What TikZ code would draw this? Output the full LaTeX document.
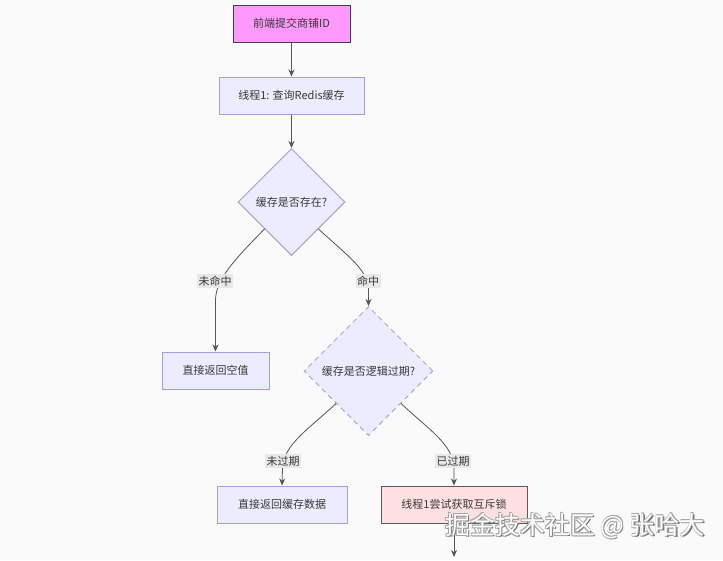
\documentclass[tikz,border=0pt]{standalone}
\usepackage{fontspec}
\setmainfont{Noto Sans CJK SC}
\usetikzlibrary{shapes.geometric,arrows.meta}
\definecolor{bg}{HTML}{FAFAFA}
\definecolor{nodefill}{HTML}{ECECFF}
\definecolor{nodeline}{HTML}{A99BE3}
\definecolor{dashline}{HTML}{ABA6D6}
\definecolor{magentafill}{HTML}{FF99FF}
\definecolor{pinkfill}{HTML}{FFE0E0}
\definecolor{edgecol}{HTML}{555555}
\definecolor{labbg}{HTML}{E8E8E8}
\tikzset{
  box/.style={draw=nodeline, fill=nodefill, line width=1pt, minimum height=37pt, inner sep=0pt, font=\fontsize{11pt}{13pt}\selectfont, text=black!78},
  dia/.style={diamond, draw=nodeline, fill=nodefill, line width=1pt, inner sep=0pt, font=\fontsize{11pt}{13pt}\selectfont, text=black!78, aspect=1},
  arr/.style={draw=edgecol, line width=0.8pt, -{Stealth[length=7pt,width=6pt]}},
  lab/.style={fill=labbg, inner sep=1.5pt, font=\fontsize{11pt}{13pt}\selectfont, text=black!78},
  wmark/.style={font=\fontsize{25pt}{28pt}\selectfont, inner sep=0pt},
}
\begin{document}
\begin{tikzpicture}[x=1pt,y=-1pt]
\fill[bg] (0,0) rectangle (723,560);
\useasboundingbox (0,0) rectangle (723,560);

\node[box, draw=black!75, fill=magentafill, minimum width=117pt] (start) at (291.5,23.5) {前端提交商铺ID};
\node[box, minimum width=145pt] (query) at (291.5,95.5) {线程1: 查询Redis缓存};
\node[dia, minimum width=107pt, minimum height=107pt] (exist) at (291.5,202) {缓存是否存在?};
\node[box, minimum width=107pt] (nullv) at (215.5,370.5) {直接返回空值};
\node[dia, draw=dashline, dash pattern=on 5pt off 4pt, minimum width=129pt, minimum height=129pt] (expire) at (368.5,371) {缓存是否逻辑过期?};
\node[box, minimum width=130pt] (cached) at (282,504.5) {直接返回缓存数据};
\node[box, draw=black!65, fill=pinkfill, minimum width=146pt] (lock) at (454,504.5) {线程1尝试获取互斥锁};
\coordinate (down) at (454,557);

\draw[arr] (start) -- (query);
\draw[arr] (query) -- (exist);

\draw[arr] (exist.south west) .. controls (232,262) and (216,280) .. (215.5,300) -- (nullv.north);
\node[lab] (l1) at (215,281) {未命中};

\draw[arr] (exist.south east) .. controls (350,258) and (368,270) .. (368.5,290) -- (expire.north);
\node[lab] (l2) at (368,281) {命中};

\draw[arr] (expire.south west) .. controls (310,428) and (283,445) .. (282.5,468) -- (cached.north);
\node[lab] (l3) at (283,461) {未过期};

\draw[arr] (expire.south east) .. controls (427,428) and (454,445) .. (454,468) -- (lock.north);
\node[lab] (l4) at (453,461) {已过期};

\draw[arr] (lock) -- (down);

\node[wmark, text=black!55] (wm1) at (576.3,527.3) {掘金技术社区 @ 张哈大};
\node[wmark, text=black!35] (wm2) at (574.4,525.4) {掘金技术社区 @ 张哈大};
\node[wmark, text=black!35] (wm3) at (575.6,525.4) {掘金技术社区 @ 张哈大};
\node[wmark, text=black!35] (wm4) at (574.4,526.6) {掘金技术社区 @ 张哈大};
\node[wmark, text=white] (wm) at (575,526) {掘金技术社区 @ 张哈大};
\end{tikzpicture}
\end{document}
